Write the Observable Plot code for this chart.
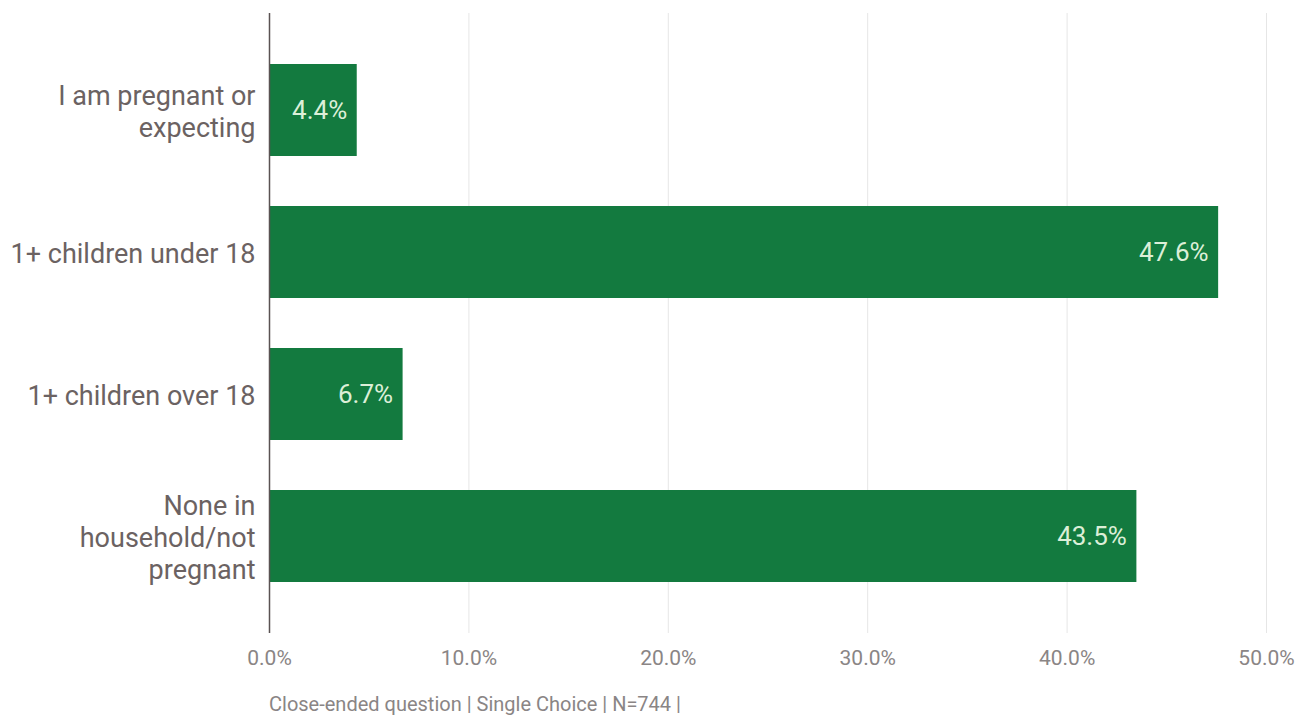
<!DOCTYPE html>
<html>
<head>
<meta charset="utf-8">
<script src="https://cdn.jsdelivr.net/npm/d3@7"></script>
<script src="https://cdn.jsdelivr.net/npm/@observablehq/plot@0.6"></script>
<style>
  html, body { margin: 0; padding: 0; background: #fff; }
  body { width: 1308px; height: 720px; overflow: hidden; font-family: Roboto, "Noto Sans", sans-serif; }
  #caption { position: absolute; left: 269px; top: 692px; font-size: 20px; line-height: 24px; color: #8a8585; font-family: Roboto, sans-serif; }
</style>
</head>
<body>
<div id="chart"></div>
<div id="caption">Close-ended question | Single Choice | N=744 |</div>
<script>
const categories = [
  "I am pregnant or\nexpecting",
  "1+ children under 18",
  "1+ children over 18",
  "None in\nhousehold/not\npregnant"
];
const values = [0.044, 0.476, 0.067, 0.435];
const xTicks = [0, 0.1, 0.2, 0.3, 0.4, 0.5];

const data = categories.map((c, i) => ({category: c, value: values[i]}));

const chart = Plot.plot({
  width: 1308,
  height: 690,
  marginLeft: 269,
  marginRight: 42,
  marginTop: 13,
  marginBottom: 57,
  style: {fontFamily: "Roboto, sans-serif", background: "#fff"},
  x: {domain: [0, 0.5]},
  y: {domain: categories, padding: 0.35},
  marks: [
    Plot.gridX(xTicks, {stroke: "#e6e6e6", strokeOpacity: 1, strokeWidth: 1}),
    Plot.barX(data, {x: "value", y: "category", fill: "#137a3f"}),
    Plot.text(data, {x: "value", y: "category", text: d => d3.format(".1%")(d.value), textAnchor: "end", dx: -10, fill: "#dcefd8", fontSize: 26}),
    Plot.axisX(xTicks, {tickFormat: d3.format(".1%"), tickSize: 0, tickPadding: 17, fontSize: 21, fill: "#8a8585", label: null}),
    Plot.axisY({tickSize: 0, tickPadding: 14, fontSize: 27, fill: "#6b6262", lineHeight: 1.18, label: null, textOverflow: null, lineWidth: Infinity}),
    Plot.ruleX([0], {stroke: "#5a5252", strokeWidth: 1.5})
  ]
});
document.getElementById("chart").appendChild(chart);
</script>
</body>
</html>
